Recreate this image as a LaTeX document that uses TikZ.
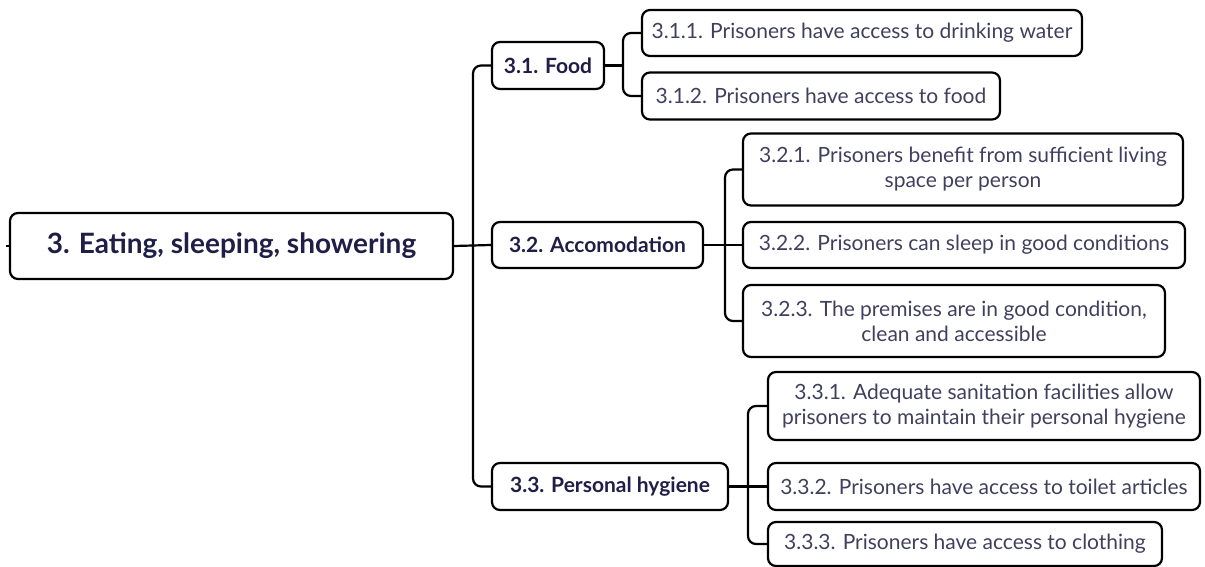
\documentclass[tikz,border=0pt]{standalone}
\usepackage{fontspec}
\setmainfont{Lato}
\definecolor{navy}{HTML}{1E1E46}
\definecolor{txt}{HTML}{40405E}
\begin{document}
\begin{tikzpicture}[x=1pt,y=-1pt,
  box/.style={draw=black,line width=2.2pt,rounded corners=8pt,inner sep=0pt,align=center},
  root/.style={box,font=\fontsize{28}{32}\selectfont\bfseries,text=navy},
  lvl/.style={box,font=\fontsize{21}{24}\selectfont\bfseries,text=navy},
  leaf/.style={box,font=\fontsize{21}{25}\selectfont,text=txt},
  link/.style={line width=2.2pt,rounded corners=8pt}]
\useasboundingbox (0,0) rectangle (1205,567);
\node[root,minimum width=443,minimum height=66] (root) at (231.5,246) {3. Eating, sleeping, showering};
\node[lvl,minimum width=112,minimum height=47] (food) at (548,65.5) {3.1. Food};
\node[lvl,minimum width=211,minimum height=46] (acc) at (597.5,245) {3.2. Accomodation};
\node[lvl,minimum width=236,minimum height=47] (hyg) at (610,486.5) {3.3. Personal hygiene};
\node[leaf,minimum width=440,minimum height=46] (c311) at (862,33) {3.1.1. Prisoners have access to drinking water};
\node[leaf,minimum width=358,minimum height=47] (c312) at (821,96) {3.1.2. Prisoners have access to food};
\node[leaf,minimum width=440,minimum height=72] (c321) at (963,169.5) {3.2.1. Prisoners benefit from sufficient living\\space per person};
\node[leaf,minimum width=442,minimum height=46] (c322) at (964,245) {3.2.2. Prisoners can sleep in good conditions};
\node[leaf,minimum width=422,minimum height=72] (c323) at (954,321) {3.2.3. The premises are in good condition,\\clean and accessible};
\node[leaf,minimum width=432,minimum height=68] (c331) at (984,406) {3.3.1. Adequate sanitation facilities allow\\prisoners to maintain their personal hygiene};
\node[leaf,minimum width=432,minimum height=47] (c332) at (984,486.5) {3.3.2. Prisoners have access to toilet articles};
\node[leaf,minimum width=394,minimum height=44] (c333) at (965,544) {3.3.3. Prisoners have access to clothing};
\coordinate (t) at (473,0);
\coordinate (tf) at (623,0);
\coordinate (ta) at (725,0);
\coordinate (th) at (748,0);
\coordinate (stub) at (6,246);
\draw[link] (stub) -- (root.west);
\draw[link] (root.east) -- (acc.west);
\draw[link] (food.west) -| (t |- hyg.west) -- (hyg.west);
\draw[link] (food.east) -- (tf |- food.east);
\draw[link] (c311.west) -| (tf |- c312.west) -- (c312.west);
\draw[link] (acc.east) -- (c322.west);
\draw[link] (c321.west) -| (ta |- c323.west) -- (c323.west);
\draw[link] (hyg.east) -- (c332.west);
\draw[link] (c331.west) -| (th |- c333.west) -- (c333.west);
\end{tikzpicture}
\end{document}
